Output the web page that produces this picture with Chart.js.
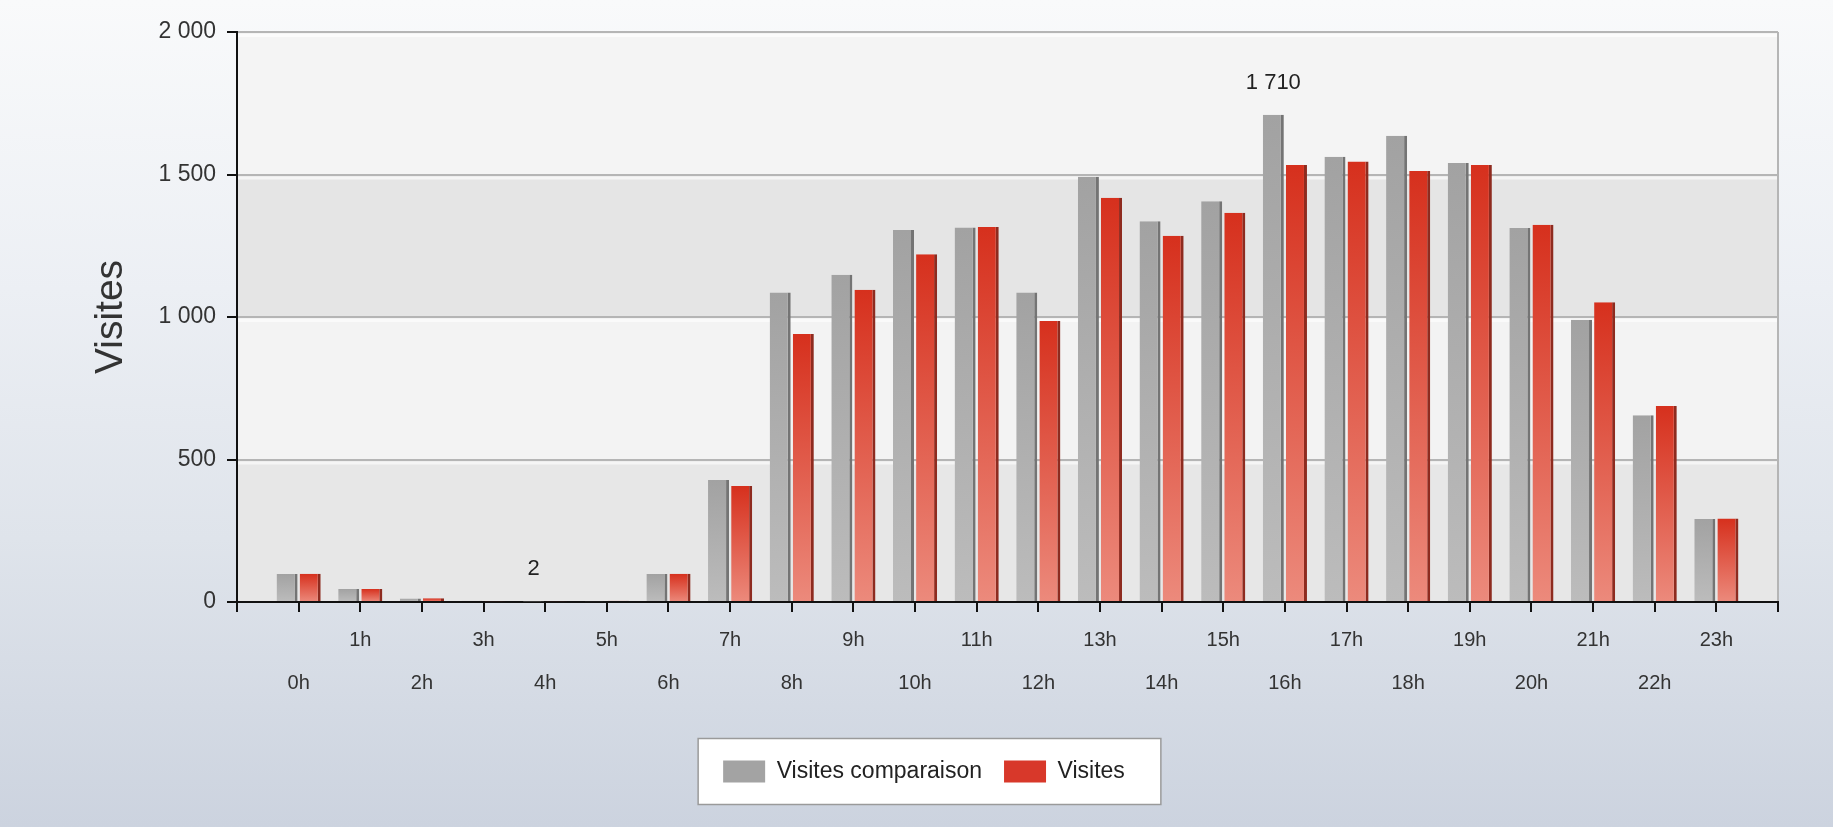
<!DOCTYPE html>
<html><head><meta charset="utf-8">
<script src="https://cdn.jsdelivr.net/npm/chart.js@4/dist/chart.umd.min.js"></script>
<style>
html,body{margin:0;padding:0;width:1833px;height:827px;overflow:hidden;}
body{background:linear-gradient(to bottom,#f9fafb 0%,#eceff4 35%,#dfe4eb 65%,#ccd3df 100%);}
canvas{display:block;}
</style></head><body>
<canvas id="c" width="1833" height="827"></canvas>
<script>
const hours = ['0h','1h','2h','3h','4h','5h','6h','7h','8h','9h','10h','11h','12h','13h','14h','15h','16h','17h','18h','19h','20h','21h','22h','23h'];
const visitesComparaison = [98, 46, 12, 4, 2, 3, 98, 428, 1086, 1148, 1305, 1314, 1086, 1492, 1336, 1406, 1710, 1562, 1636, 1540, 1312, 990, 655, 291];
const visites = [99, 46, 13, 3, 3, 4, 99, 407, 940, 1096, 1220, 1316, 986, 1418, 1285, 1366, 1533, 1546, 1512, 1533, 1324, 1052, 688, 293];
const yTickValues = [0, 500, 1000, 1500, 2000];
const seriesNames = ['Visites comparaison', 'Visites'];

const FONT = '"Liberation Sans", Arial, sans-serif';
function fmt(v){ return String(v).replace(/\B(?=(\d{3})+(?!\d))/g, ' '); }
const toPoints = arr => arr.map((v, i) => ({x: i, y: v}));

function barGradient(top, bottom, fallback){
  return function(c){
    const chart = c.chart, y = chart.scales && chart.scales.y;
    if (c.type !== 'data' || !chart.chartArea || !y || !c.raw) return fallback;
    const yTop = y.getPixelForValue(c.raw.y), yBase = y.getPixelForValue(0);
    if (!(yBase - yTop > 1)) return fallback;
    const g = chart.ctx.createLinearGradient(0, yTop, 0, yBase);
    g.addColorStop(0, top); g.addColorStop(1, bottom);
    return g;
  };
}

const LAYOUT_BOTTOM = 34;
const AREA_BOTTOM = 602;
const LEGEND_SHIFT = 30;

const bgPlugin = {
  id: 'bg',
  afterLayout(chart){
    const lg = chart.legend;
    if (lg){ lg.left += LEGEND_SHIFT; lg.right += LEGEND_SHIFT; }
  },
  beforeDraw(chart){
    const {ctx, chartArea: a, scales: {y}} = chart;
    const bandColors = ['#e7e7e7', '#f3f3f3', '#e5e5e5', '#f4f4f4'];
    ctx.save();
    for (let i = 0; i < yTickValues.length - 1; i++){
      const y0 = y.getPixelForValue(yTickValues[i]), y1 = y.getPixelForValue(yTickValues[i+1]);
      ctx.fillStyle = bandColors[i % bandColors.length];
      ctx.fillRect(a.left, y1, a.right - a.left, y0 - y1);
      ctx.fillStyle = 'rgba(255,255,255,0.6)';
      ctx.fillRect(a.left, y1 + 2, a.right - a.left, 3);
    }
    const hb = chart.legend && chart.legend.legendHitBoxes;
    if (hb && hb.length){
      const left = Math.min(...hb.map(h => h.left)) - 25;
      const right = Math.max(...hb.map(h => h.left + h.width)) + 36;
      const cy = hb[0].top + hb[0].height / 2;
      ctx.fillStyle = '#ffffff';
      ctx.fillRect(left, cy - 33, right - left, 66);
      ctx.strokeStyle = '#9a9a9a';
      ctx.lineWidth = 1.5;
      ctx.strokeRect(left, cy - 33, right - left, 66);
    }
    ctx.restore();
  },
  afterDatasetsDraw(chart){
    const {ctx} = chart;
    const meta = chart.getDatasetMeta(0);
    const d = visitesComparaison;
    let iMax = 0, iMin = 0;
    d.forEach((v, i) => { if (v > d[iMax]) iMax = i; if (v < d[iMin]) iMin = i; });
    ctx.save();
    ctx.font = '22px ' + FONT;
    ctx.fillStyle = '#222';
    ctx.textAlign = 'center';
    ctx.textBaseline = 'middle';
    [iMax, iMin].forEach(i => {
      const el = meta.data[i];
      ctx.fillText(fmt(d[i]), el.x, el.y - 32);
    });
    ctx.restore();
  }
};

const legendColors = ['#a3a3a3', '#d8382a'];

new Chart(document.getElementById('c'), {
  type: 'bar',
  data: {
    datasets: [
      {
        label: seriesNames[0],
        data: toPoints(visitesComparaison),
        backgroundColor: barGradient('#a2a2a2', '#bcbcbc', '#a8a8a8'),
        borderColor: '#747474',
        borderWidth: {top: 0, left: 0, bottom: 0, right: 3},
        borderSkipped: false
      },
      {
        label: seriesNames[1],
        data: toPoints(visites),
        backgroundColor: barGradient('#d6301d', '#ec8a7c', '#e0503e'),
        borderColor: '#8e2b1f',
        borderWidth: {top: 0, left: 0, bottom: 0, right: 3},
        borderSkipped: false
      }
    ]
  },
  options: {
    responsive: false,
    animation: false,
    devicePixelRatio: 1,
    categoryPercentage: 0.75,
    barPercentage: 0.91,
    layout: {padding: {left: 10, right: 55, top: 32, bottom: LAYOUT_BOTTOM}},
    plugins: {
      tooltip: {enabled: false},
      legend: {
        position: 'bottom',
        labels: {
          boxWidth: 42,
          boxHeight: 22,
          padding: 22,
          color: '#222',
          font: {family: FONT, size: 23},
          generateLabels(chart){
            const items = Chart.defaults.plugins.legend.labels.generateLabels(chart);
            items.forEach((it, i) => { it.fillStyle = legendColors[i]; it.strokeStyle = legendColors[i]; it.lineWidth = 0; });
            return items;
          }
        }
      }
    },
    scales: {
      x: {
        type: 'linear',
        min: -1,
        max: 24,
        offset: false,
        afterFit(s){
          const lh = s.chart.legend ? s.chart.legend.height : 0;
          s.height = 827 - LAYOUT_BOTTOM - lh - AREA_BOTTOM;
        },
        ticks: {
          stepSize: 1,
          maxTicksLimit: 40,
          autoSkip: false,
          maxRotation: 0,
          minRotation: 0,
          padding: 7,
          color: '#333',
          font: {family: FONT, size: 20, lineHeight: '43px'},
          callback(value){
            const i = Math.round(value);
            if (value !== i || i < 0 || i >= hours.length) return '';
            return i % 2 ? [hours[i], ''] : ['', hours[i]];
          }
        },
        grid: {
          offset: false,
          drawOnChartArea: true,
          color: c => (c.tick && c.tick.value === 24) ? '#b5b5b5' : 'rgba(0,0,0,0)',
          tickColor: '#111',
          tickLength: 10,
          lineWidth: 2
        },
        border: {color: '#111', width: 2}
      },
      y: {
        min: 0,
        max: 2000,
        afterBuildTicks(s){ s.ticks = yTickValues.map(v => ({value: v})); },
        afterFit(s){ s.width = 227; },
        ticks: {
          padding: 11,
          color: '#333',
          font: {family: FONT, size: 23},
          callback: v => fmt(v)
        },
        grid: {
          color: c => (c.tick && c.tick.value === 0) ? 'rgba(0,0,0,0)' : '#b5b5b5',
          tickColor: '#111',
          tickLength: 10,
          lineWidth: 2
        },
        border: {color: '#111', width: 2},
        title: {
          display: true,
          text: 'Visites',
          color: '#333',
          font: {family: FONT, size: 39},
          padding: {top: 78, bottom: 0}
        }
      }
    }
  },
  plugins: [bgPlugin]
});
</script>
</body></html>
